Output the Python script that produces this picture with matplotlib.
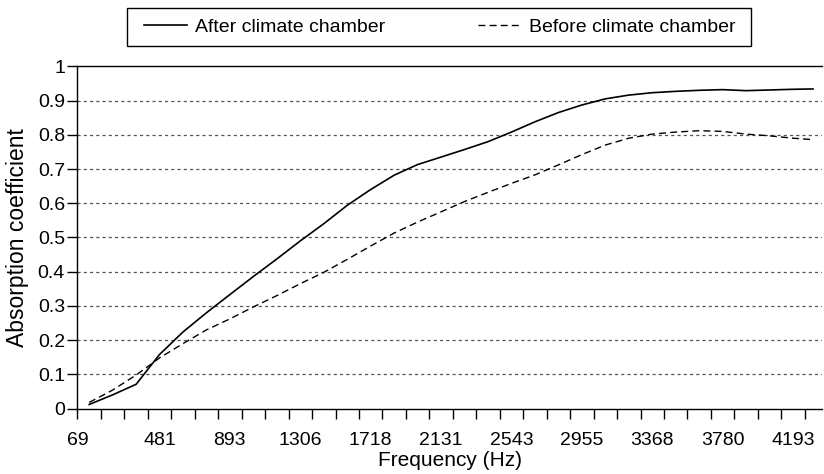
import numpy as np
import matplotlib
matplotlib.use("Agg")
import matplotlib.pyplot as plt
from matplotlib.patches import Rectangle
from matplotlib.transforms import ScaledTranslation

plt.rcParams["font.family"] = ["Liberation Sans", "DejaVu Sans"]

# measurement frequencies (Hz), one every 1/3 of a labelled step
freq = [69, 206, 344, 481, 619, 756, 893, 1031, 1168, 1306, 1443, 1581,
        1718, 1856, 1993, 2131, 2268, 2406, 2543, 2681, 2818, 2955, 3093,
        3230, 3368, 3505, 3643, 3780, 3918, 4055, 4193, 4310]

after_chamber = [0.012, 0.040, 0.071, 0.158, 0.224, 0.280, 0.333, 0.386,
                 0.437, 0.490, 0.540, 0.594, 0.640, 0.682, 0.713, 0.735,
                 0.757, 0.780, 0.808, 0.838, 0.865, 0.887, 0.905, 0.916,
                 0.923, 0.927, 0.930, 0.932, 0.929, 0.931, 0.933, 0.934]

before_chamber = [0.018, 0.054, 0.098, 0.148, 0.190, 0.230, 0.262, 0.297,
                  0.330, 0.365, 0.398, 0.436, 0.475, 0.513, 0.545, 0.575,
                  0.605, 0.632, 0.658, 0.683, 0.712, 0.742, 0.770, 0.790,
                  0.802, 0.808, 0.812, 0.810, 0.802, 0.797, 0.790, 0.786]

tick_labels = ["69", "481", "893", "1306", "1718", "2131", "2543", "2955",
               "3368", "3780", "4193"]
label_freqs = [float(t) for t in tick_labels]

step = 412.4 / 3  # spacing between minor tick marks in Hz
TICK_FS = 14
LABEL_FS = 15
LEG_FS = 14

W, H = 824, 474
fig = plt.figure(figsize=(W / 100, H / 100), dpi=100)
ax = fig.add_axes([0.094, 0.138, 0.904, 0.722])

ax.plot(freq, after_chamber, color="black", lw=1.2, label="After climate chamber")
ax.plot(freq, before_chamber, color="black", lw=1.0, ls=(0, (5, 3)),
        label="Before climate chamber")

ax.set_xlim(69 - step / 2, 69 + step * 31.25)
ax.set_ylim(0, 1)

# y axis
ax.set_yticks(np.arange(0, 1.01, 0.1))
ax.set_yticklabels(["0"] + [f"{v:.1f}" for v in np.arange(0.1, 0.95, 0.1)] + ["1"])
for v in np.arange(0.1, 0.95, 0.1):
    ax.axhline(v, color="#555555", lw=0.9, ls=(0, (2.5, 2.5)), zorder=0)

# x axis: tick marks between frequency bins, labels on the bins
ax.set_xticks(69 - step / 2 + step * np.arange(32), minor=True)
ax.set_xticks(label_freqs)
ax.set_xticklabels(tick_labels)
ax.tick_params(axis="x", which="major", length=0, pad=17, labelsize=TICK_FS)
ax.tick_params(axis="x", which="minor", length=7, width=1, direction="out")
ax.tick_params(axis="y", length=7, width=1, direction="out", labelsize=TICK_FS, pad=2)

# first label sits against the axis
lbl0 = ax.get_xticklabels()[0]
lbl0.set_transform(lbl0.get_transform() + ScaledTranslation(-11 / 100, 0, fig.dpi_scale_trans))

for side in ["top", "left", "bottom"]:
    ax.spines[side].set_linewidth(1.0)
ax.spines["right"].set_visible(False)

ax.set_xlabel("Frequency (Hz)", fontsize=LABEL_FS, labelpad=1)
ax.set_ylabel("Absorption coefficient", fontsize=16.5, labelpad=6)

# legend entries without frame, box drawn separately
fig.legend(loc="center", ncol=2, bbox_to_anchor=(440 / W, 1 - 27 / H),
           fontsize=LEG_FS, frameon=False, handlelength=2.2, borderpad=0,
           borderaxespad=0, handletextpad=0.4, columnspacing=4.8)
fig.add_artist(Rectangle((127 / W, 1 - 46 / H), 624 / W, 38 / H,
                         transform=fig.transFigure, fill=False,
                         edgecolor="black", lw=1.0))

fig.savefig("out.png", dpi=100)
